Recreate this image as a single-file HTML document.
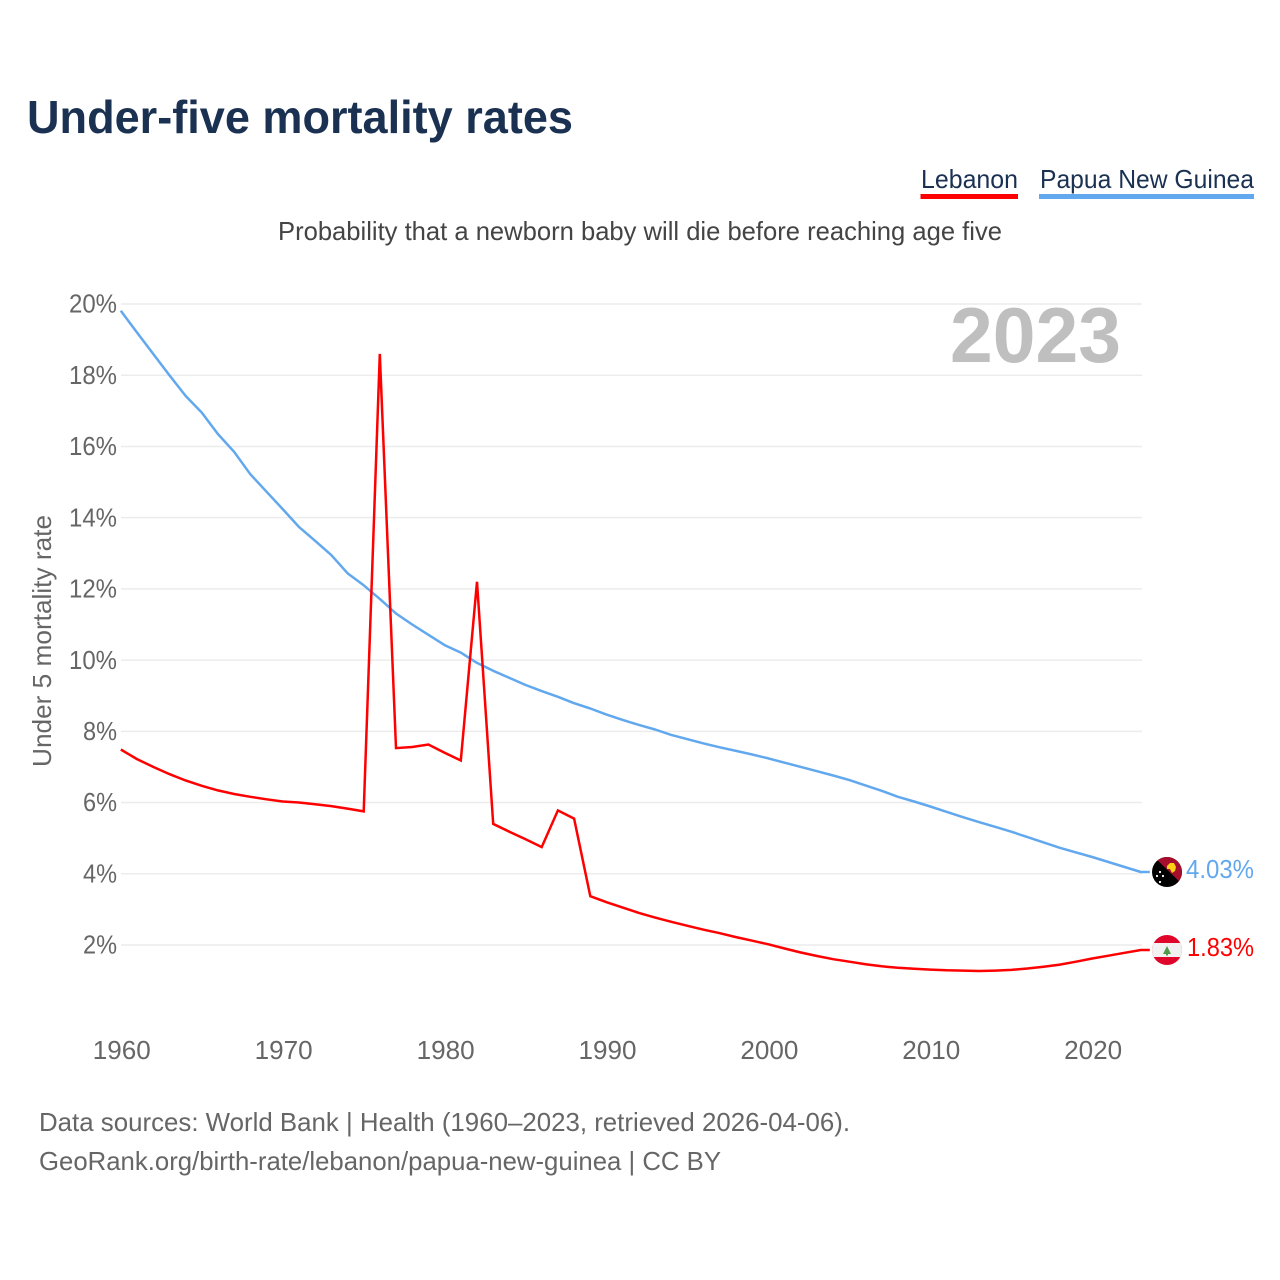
<!DOCTYPE html>
<html lang="en">
<head>
<meta charset="utf-8">
<title>Under-five mortality rates</title>
<style>
html,body{margin:0;padding:0;background:#fff}
svg{display:block}
text{font-family:"Liberation Sans",sans-serif}
</style>
</head>
<body>
<svg id="chart" xmlns="http://www.w3.org/2000/svg" width="1280" height="1280" viewBox="0 0 1280 1280">
  <defs>
    <clipPath id="png-clip"><circle cx="1167" cy="872" r="15"/></clipPath>
    <clipPath id="lb-clip"><circle cx="1167" cy="950" r="15"/></clipPath>
  </defs>
  <rect width="1280" height="1280" fill="#fff"/>
  <text x="27" y="133" font-size="46" font-weight="700" fill="#1a3152" textLength="546" lengthAdjust="spacingAndGlyphs">Under-five mortality rates</text>

  <g>
    <text x="921" y="188" font-size="26" fill="#1a3152" textLength="97" lengthAdjust="spacingAndGlyphs">Lebanon</text>
    <rect x="920.500" y="194" width="97.500" height="5" fill="#ff0000"/>
  </g>
  <g>
    <text x="1040" y="188" font-size="26" fill="#1a3152" textLength="214" lengthAdjust="spacingAndGlyphs">Papua New Guinea</text>
    <rect x="1039" y="194" width="215" height="5" fill="#62a8ee"/>
  </g>

  <text x="278" y="240" font-size="26" fill="#444" textLength="724" lengthAdjust="spacingAndGlyphs">Probability that a newborn baby will die before reaching age five</text>

  <g id="grid"></g>
  <g id="yticks"></g>
  <g id="xticks"></g>

  <text x="950" y="362" font-size="78" font-weight="700" fill="#bfbfbf" textLength="171" lengthAdjust="spacingAndGlyphs">2023</text>

  <text transform="translate(51,641) rotate(-90)" text-anchor="middle" font-size="26" fill="#666" textLength="252" lengthAdjust="spacingAndGlyphs">Under 5 mortality rate</text>

  <path id="line-png" d="" fill="none" stroke="#62a8ee" stroke-width="2.500" stroke-linejoin="round"/>
  <path id="line-lb" d="" fill="none" stroke="#ff0000" stroke-width="2.500" stroke-linejoin="miter"/>

  <g clip-path="url(#png-clip)">
    <rect x="1152" y="857" width="30" height="30" fill="#000"/>
    <polygon points="1150,853 1185,853 1185,887" fill="#a60f2b"/>
    <polygon points="1167,866 1170,863 1174,863 1176,867 1175,871 1172,873 1170,869 1167,869" fill="#fcd116"/>
    <circle cx="1160" cy="872" r="1.100" fill="#fff"/>
    <circle cx="1157" cy="876" r="1.100" fill="#fff"/>
    <circle cx="1163" cy="876" r="1.100" fill="#fff"/>
    <circle cx="1160" cy="882" r="1.100" fill="#fff"/>
  </g>
  <g clip-path="url(#lb-clip)">
    <rect x="1152" y="935" width="30" height="30" fill="#e0062b"/>
    <rect x="1152" y="943" width="30" height="14" fill="#f1f1f1"/>
    <polygon points="1167,946 1171,954 1163,954" fill="#4f9a4a"/>
    <rect x="1166" y="953" width="2" height="2.500" fill="#4f9a4a"/>
  </g>

  <text x="1254" y="878" text-anchor="end" font-size="26" fill="#62a8ee" textLength="68" lengthAdjust="spacingAndGlyphs">4.03%</text>
  <text x="1254" y="956" text-anchor="end" font-size="26" fill="#ff0000" textLength="67" lengthAdjust="spacingAndGlyphs">1.83%</text>

  <text x="39" y="1131" font-size="26" fill="#666" textLength="811" lengthAdjust="spacingAndGlyphs">Data sources: World Bank | Health (1960–2023, retrieved 2026-04-06).</text>
  <text x="39" y="1170" font-size="26" fill="#666" textLength="682" lengthAdjust="spacingAndGlyphs">GeoRank.org/birth-rate/lebanon/papua-new-guinea | CC BY</text>
</svg>
<script>
var startYear = 1960;
var yTickValues = [2, 4, 6, 8, 10, 12, 14, 16, 18, 20];
var xTickValues = [1960, 1970, 1980, 1990, 2000, 2010, 2020];
var papuaValues = [
  19.81, 19.2, 18.6, 18.0, 17.42, 16.95, 16.35, 15.85, 15.22, 14.73,
  14.24, 13.74, 13.35, 12.95, 12.44, 12.1, 11.72, 11.31, 11.0, 10.71,
  10.42, 10.21, 9.92, 9.7, 9.5, 9.3, 9.13, 8.97, 8.79, 8.64,
  8.47, 8.32, 8.18, 8.05, 7.9, 7.78, 7.66, 7.55, 7.45, 7.35,
  7.24, 7.12, 7.0, 6.88, 6.76, 6.63, 6.48, 6.33, 6.16, 6.03,
  5.89, 5.74, 5.59, 5.45, 5.32, 5.18, 5.03, 4.88, 4.73, 4.6,
  4.47, 4.33, 4.19, 4.05
];
var lebanonValues = [
  7.49, 7.22, 7.0, 6.8, 6.62, 6.47, 6.34, 6.24, 6.16, 6.09,
  6.03, 6.0, 5.95, 5.9, 5.83, 5.75, 18.6, 7.53, 7.56, 7.63,
  7.4, 7.18, 12.2, 5.4, 5.18, 4.97, 4.75, 5.78, 5.55, 3.37,
  3.2, 3.05, 2.9, 2.77, 2.65, 2.54, 2.43, 2.33, 2.22, 2.12,
  2.02, 1.9, 1.79, 1.69, 1.6, 1.53, 1.46, 1.4, 1.36, 1.33,
  1.31, 1.29, 1.28, 1.27, 1.28, 1.3, 1.34, 1.39, 1.45, 1.53,
  1.62, 1.7, 1.78, 1.86
];

function xScale(year) { return 120.8 + (year - 1960) * 16.19; }
function yScale(value) { return 304 + (20 - value) * 35.61; }
function linePath(values) {
  var d = values.map(function (v, i) {
    return (i ? 'L' : 'M') + xScale(startYear + i).toFixed(1) + ' ' + yScale(v).toFixed(1);
  }).join(' ');
  return d + ' h9';
}
var NS = 'http://www.w3.org/2000/svg';
var grid = document.getElementById('grid');
var yticks = document.getElementById('yticks');
var xticks = document.getElementById('xticks');

yTickValues.forEach(function (v) {
  var l = document.createElementNS(NS, 'line');
  l.setAttribute('x1', 121);
  l.setAttribute('x2', 1142);
  l.setAttribute('y1', yScale(v));
  l.setAttribute('y2', yScale(v));
  l.setAttribute('stroke', '#ececec');
  l.setAttribute('stroke-width', '1.5');
  
  
  grid.appendChild(l);

  var t = document.createElementNS(NS, 'text');
  t.setAttribute('x', 117);
  t.setAttribute('y', yScale(v) + 8.7);
  t.setAttribute('text-anchor', 'end');
  t.setAttribute('font-size', '26');
  t.setAttribute('fill', '#666');
  t.setAttribute('textLength', v >= 10 ? 48 : 34);
  t.setAttribute('lengthAdjust', 'spacingAndGlyphs');
  
  
  t.textContent = v + '%';
  yticks.appendChild(t);
});

xTickValues.forEach(function (y) {
  var t = document.createElementNS(NS, 'text');
  t.setAttribute('x', xScale(y) + 1);
  t.setAttribute('y', 1059);
  t.setAttribute('text-anchor', 'middle');
  t.setAttribute('font-size', '26');
  t.setAttribute('fill', '#666');
  t.setAttribute('textLength', 58);
  t.setAttribute('lengthAdjust', 'spacingAndGlyphs');
  
  
  t.textContent = y;
  xticks.appendChild(t);
});

document.getElementById('line-png').setAttribute('d', linePath(papuaValues));
document.getElementById('line-lb').setAttribute('d', linePath(lebanonValues));
</script>
</body>
</html>
